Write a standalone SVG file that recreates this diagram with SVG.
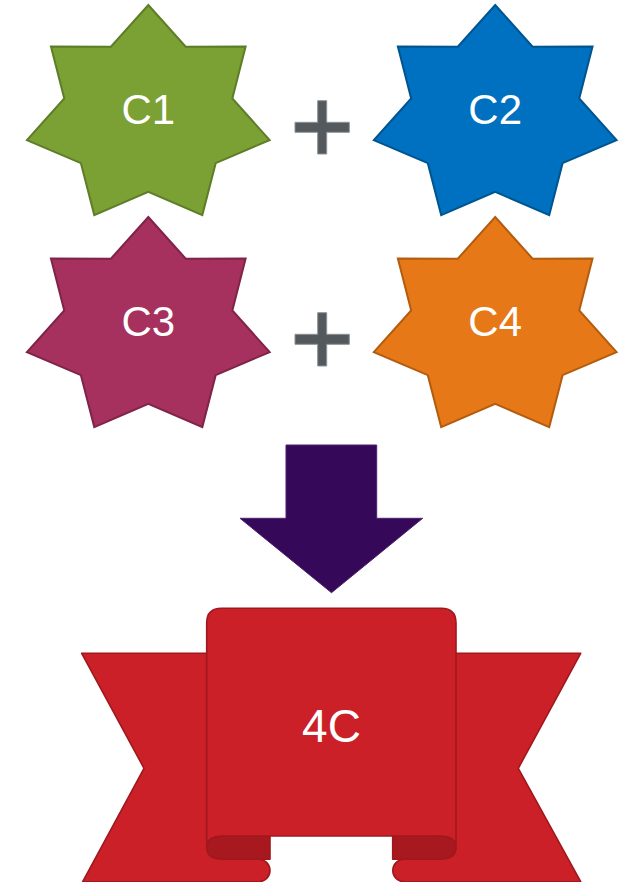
<svg xmlns="http://www.w3.org/2000/svg" width="623" height="882" viewBox="0 0 623 882">
  <defs>
    <!-- seven-pointed star centred on the origin -->
    <path id="star7" d="M0,-110.5 L37.4,-68.84 L97.33,-68.9 L84.04,-17 L121.38,24.59 L67.39,47.64 L54.02,99.56 L0,76.4 L-54.02,99.56 L-67.39,47.64 L-121.38,24.59 L-84.04,-17 L-97.33,-68.9 L-37.4,-68.84 Z"/>
    <!-- plus sign centred on the origin -->
    <path id="plus" d="M-4.5,-26.6 H4.5 V-5 H27.1 V5 H4.5 V26.7 H-4.5 V5 H-27.2 V-5 H-4.5 Z"/>
  </defs>
  <style>
    .label { font-family: "Liberation Sans", Arial, sans-serif; fill: #ffffff; text-anchor: middle; }
    .star { stroke-width: 2; stroke-linejoin: miter; }
    .plus { fill: #54595e; stroke: #8c9196; stroke-width: 1; }
    .rib { fill: #cb2027; stroke: #a0181d; stroke-width: 1.6; stroke-linejoin: round; }
    .fold { fill: #a8191f; stroke: #a0181d; stroke-width: 1.6; stroke-linejoin: round; }
  </style>

  <g id="c1">
    <use href="#star7" class="star" transform="translate(148.3,115.5)" fill="#7ba034" stroke="#5e7d28"/>
    <text class="label" x="148.3" y="123.5" font-size="42">C1</text>
  </g>
  <g id="c2">
    <use href="#star7" class="star" transform="translate(495.2,115.5)" fill="#0070c0" stroke="#00558f"/>
    <text class="label" x="495.2" y="123.8" font-size="42">C2</text>
  </g>
  <g id="c3">
    <use href="#star7" class="star" transform="translate(148.3,327.5)" fill="#a6305e" stroke="#7f2448"/>
    <text class="label" x="148.3" y="335.8" font-size="42">C3</text>
  </g>
  <g id="c4">
    <use href="#star7" class="star" transform="translate(495.2,327.5)" fill="#e77817" stroke="#b35c10"/>
    <text class="label" x="495.2" y="335.8" font-size="42">C4</text>
  </g>

  <g id="connectors">
    <use href="#plus" class="plus" transform="translate(322.2,127.3)"/>
    <use href="#plus" class="plus" transform="translate(322.2,339.3)"/>
    <path id="down-arrow" d="M286,445 H376.7 V518.3 H422.7 L331.5,592.7 L240,518.3 H286 Z" fill="#35085a" stroke="#4b2170" stroke-width="1"/>
  </g>

  <g id="result">
    <!-- back wings -->
    <path class="rib" d="M81.7,653.3 H230 V859.3 H258.8 A11.2,11.2 0 0 1 258.8,881.7 H82.7 L144,768.3 Z"/>
    <path class="rib" d="M456,653.3 H580.7 L518.3,768.3 L580.7,881.7 H404 A11.2,11.2 0 0 1 404,859.3 H430 V653.3 Z"/>
    <!-- rolled-under ends of the front panel -->
    <path class="fold" d="M270,836 H223.3 Q206.7,836 206.7,847.6 Q206.7,859.3 223.3,859.3 H270 Z"/>
    <path class="fold" d="M392.7,836 H439.4 Q456,836 456,847.6 Q456,859.3 439.4,859.3 H392.7 Z"/>
    <!-- front panel -->
    <path class="rib" d="M206.7,847.6 V623 Q206.7,608.3 221.4,608.3 H441.3 Q456,608.3 456,623 V847.6 Q456,836 439.4,836 H223.3 Q206.7,836 206.7,847.6 Z"/>
    <text class="label" x="331.5" y="741.7" font-size="46">4C</text>
  </g>
</svg>
